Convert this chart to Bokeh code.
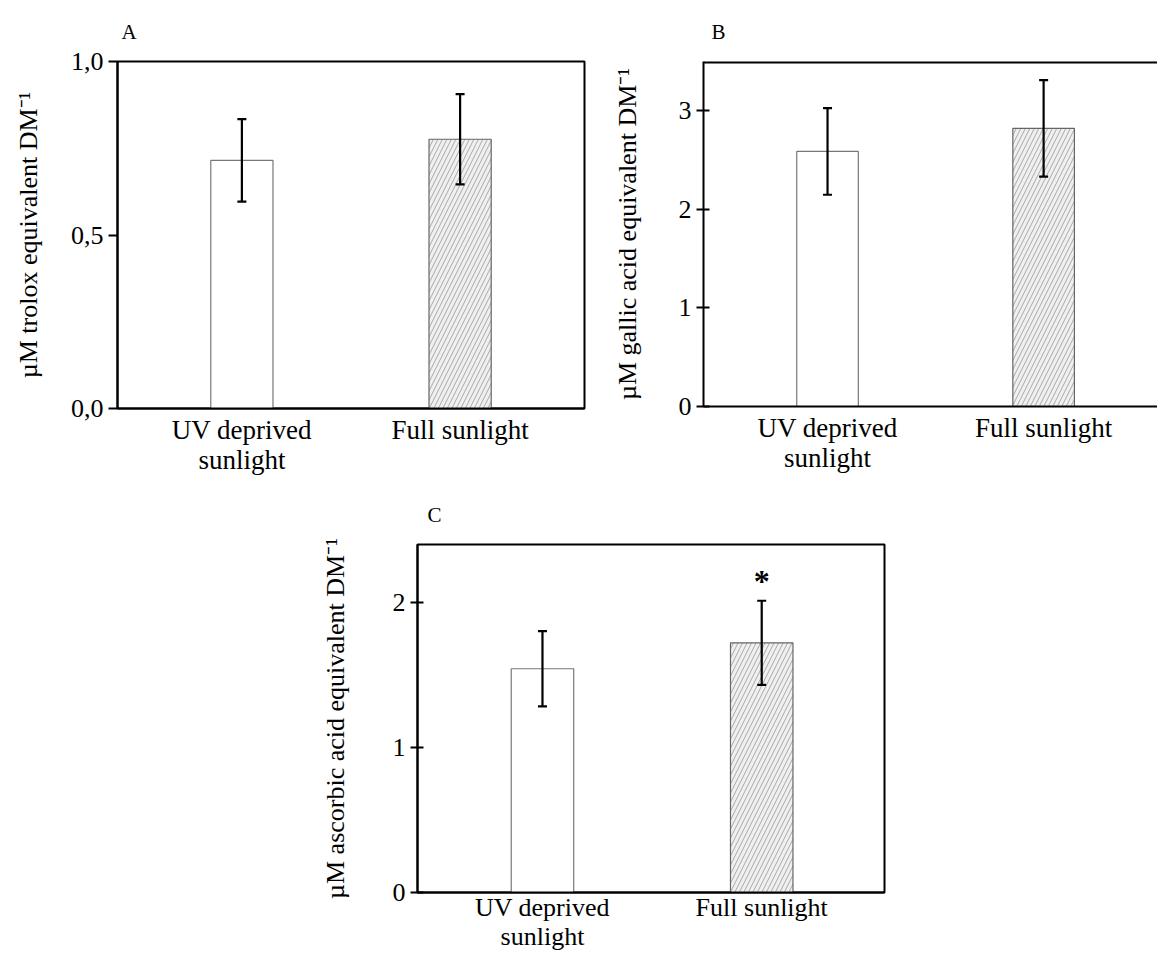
from bokeh.plotting import figure
from bokeh.models import Range1d, FixedTicker, Whisker, TeeHead, ColumnDataSource, Span
from bokeh.layouts import column, row, Spacer
from bokeh.embed import file_html
from bokeh.resources import INLINE
from bokeh.core.properties import value

# ---- data ----
categories = ["UV deprived\nsunlight", "Full sunlight"]
positions = [0, 1]
trolox_mean = [0.715, 0.776]
trolox_err = [0.119, 0.130]
gallic_mean = [2.588, 2.822]
gallic_err = [0.44, 0.49]
ascorbic_mean = [1.543, 1.722]
ascorbic_err = [0.26, 0.29]

FONT = "Liberation Serif"


def make_panel(letter, means, errs, ylabel, ymax, yticks, ytick_labels,
               xr, fw, fh, mb_left, mb_top, mb_bottom, mb_right,
               tick_in, tick_out, label_standoff, letter_offset,
               x_standoff=6, x_font="27px", full_outline=True):
    p = figure(frame_width=fw, frame_height=fh,
               x_range=Range1d(*xr), y_range=Range1d(0, ymax),
               output_backend="svg", toolbar_location=None,
               min_border_left=mb_left, min_border_top=mb_top,
               min_border_bottom=mb_bottom, min_border_right=mb_right)
    p.grid.visible = False
    if full_outline:
        p.outline_line_color = "black"
        p.outline_line_width = 2
    else:
        p.outline_line_color = None
        p.add_layout(Span(location=ymax, dimension="width",
                          line_color="black", line_width=4))
    p.background_fill_color = "white"
    p.border_fill_color = "white"

    p.title.text = letter
    p.title.align = "left"
    p.title.offset = letter_offset
    p.title.standoff = 35
    p.title.text_font = FONT
    p.title.text_font_size = "21px"
    p.title.text_font_style = "normal"
    p.title.text_color = "black"

    # bars
    p.vbar(x=[positions[0]], top=[means[0]], width=0.285, bottom=0,
           fill_color="white", line_color="#777777", line_width=1.2)
    p.vbar(x=[positions[1]], top=[means[1]], width=0.285, bottom=0,
           fill_color="#f0f0f0", line_color="#666666", line_width=1.2,
           hatch_pattern="/", hatch_color="#888888", hatch_scale=9,
           hatch_weight=0.7)

    src = ColumnDataSource(dict(
        x=positions,
        upper=[m + e for m, e in zip(means, errs)],
        lower=[m - e for m, e in zip(means, errs)]))
    w = Whisker(base="x", upper="upper", lower="lower", source=src,
                line_color="black", line_width=2.2, level="annotation",
                upper_head=TeeHead(size=9, line_width=2.2, line_color="black"),
                lower_head=TeeHead(size=9, line_width=2.2, line_color="black"))
    p.add_layout(w)

    # x axis
    xa = p.xaxis[0]
    xa.ticker = FixedTicker(ticks=positions)
    xa.major_label_overrides = {positions[i]: categories[i] for i in range(2)}
    xa.major_tick_in = 0
    xa.major_tick_out = 0
    xa.minor_tick_line_color = None
    xa.axis_line_width = 2
    xa.major_label_text_font = FONT
    xa.major_label_text_font_size = x_font
    xa.major_label_text_color = "black"
    xa.major_label_text_line_height = 1.0
    xa.major_label_standoff = x_standoff

    # y axis
    ya = p.yaxis[0]
    ya.ticker = FixedTicker(ticks=yticks)
    ya.major_label_overrides = {t: l for t, l in zip(yticks, ytick_labels)}
    ya.major_tick_in = tick_in
    ya.major_tick_out = tick_out
    ya.major_tick_line_width = 2
    ya.minor_tick_line_color = None
    ya.axis_line_width = 2
    ya.major_label_text_font = FONT
    ya.major_label_text_font_size = "26px"
    ya.major_label_text_color = "black"
    ya.major_label_standoff = 5
    ya.axis_label = ylabel
    ya.axis_label_text_font = FONT
    ya.axis_label_text_font_size = "26px"
    ya.axis_label_text_font_style = "normal"
    ya.axis_label_text_color = "black"
    ya.axis_label_standoff = label_standoff
    return p


pA = make_panel("A", trolox_mean, trolox_err, "µM trolox equivalent DM⁻¹",
                1.0, [0, 0.5, 1.0], ["0,0", "0,5", "1,0"],
                (-0.57, 1.57), 467, 347, 117, 60, 62, 16,
                0, 9, 25, 4)

pB = make_panel("B", gallic_mean, gallic_err, "µM gallic acid equivalent DM⁻¹",
                3.5, [0, 1, 2, 3], ["0", "1", "2", "3"],
                (-0.574, 1.527), 454, 345, 103, 60, 64, 0,
                6, 7, 34, 8, full_outline=False)

pC = make_panel("C", ascorbic_mean, ascorbic_err, "µM ascorbic acid equivalent DM⁻¹",
                2.4, [0, 1, 2], ["0", "1", "2"],
                (-0.57, 1.56), 467, 348, 117, 67, 58, 10,
                6, 7, 40, 10, x_standoff=0, x_font="26px")
pC.text(x=[positions[1]], y=[2.15], text=["*"], text_font=value(FONT),
        text_font_size="32px", text_font_style="bold", text_color="black",
        text_align="center", text_baseline="middle")

layout = column(row(pA, pB), row(Spacer(width=300, height=10), pC))

open("out.html", "w").write(file_html(layout, INLINE))
